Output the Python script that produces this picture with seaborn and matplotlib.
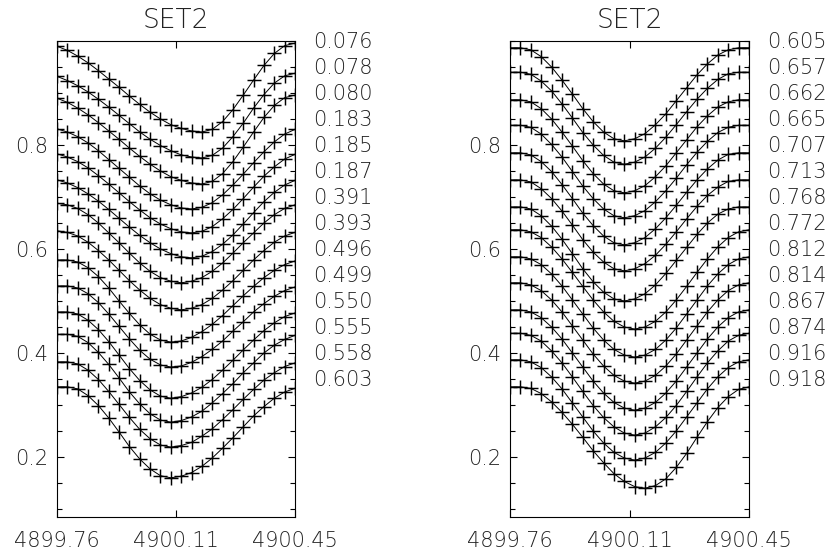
import matplotlib
matplotlib.use('Agg')
import pandas as pd
from matplotlib import pyplot as plt
from matplotlib.ticker import MultipleLocator, NullLocator
from matplotlib.transforms import blended_transform_factory
import seaborn as sns

# Sampled wavelengths (Angstrom) shared by every spectrum
wavelength = [4899.76, 4899.79, 4899.82, 4899.85, 4899.88, 4899.91, 4899.94, 4899.97,
              4900.00, 4900.03, 4900.06, 4900.09, 4900.12, 4900.15, 4900.18, 4900.21,
              4900.24, 4900.27, 4900.30, 4900.33, 4900.36, 4900.39, 4900.42, 4900.45]

left_phases = ['0.076', '0.078', '0.080', '0.183', '0.185', '0.187', '0.391',
               '0.393', '0.496', '0.499', '0.550', '0.555', '0.558', '0.603']
right_phases = ['0.605', '0.657', '0.662', '0.665', '0.707', '0.713', '0.768',
                '0.772', '0.812', '0.814', '0.867', '0.874', '0.916', '0.918']

# Offset line profiles, one row per phase
left_flux = [
    [.990, .982, .971, .958, .943, .927, .911, .894, .878, .863, .850, .839, .832, .827, .825, .830, .845, .868, .896, .925, .953, .976, .991, .996],
    [.932, .924, .914, .902, .888, .873, .857, .841, .825, .811, .799, .789, .781, .777, .775, .780, .794, .816, .842, .871, .897, .919, .933, .938],
    [.890, .882, .871, .858, .843, .827, .811, .794, .778, .763, .750, .739, .732, .727, .725, .730, .745, .768, .796, .825, .853, .876, .891, .896],
    [.831, .825, .816, .804, .789, .772, .755, .738, .721, .706, .694, .685, .679, .677, .680, .689, .704, .723, .744, .766, .787, .806, .821, .830],
    [.783, .777, .768, .756, .741, .725, .708, .691, .675, .660, .648, .639, .633, .631, .634, .643, .658, .676, .697, .719, .740, .758, .773, .782],
    [.733, .727, .718, .706, .692, .676, .659, .642, .626, .612, .600, .591, .585, .583, .586, .595, .609, .627, .648, .670, .691, .709, .723, .732],
    [.688, .685, .678, .666, .650, .631, .612, .592, .573, .557, .545, .538, .535, .538, .545, .557, .573, .592, .612, .631, .650, .666, .678, .685],
    [.635, .632, .625, .613, .597, .579, .559, .539, .521, .505, .493, .486, .483, .486, .493, .505, .521, .539, .559, .579, .597, .613, .625, .632],
    [.579, .579, .575, .564, .547, .525, .500, .476, .454, .436, .425, .421, .423, .430, .441, .455, .472, .491, .510, .528, .545, .559, .570, .577],
    [.529, .529, .525, .514, .497, .475, .451, .427, .405, .388, .377, .373, .375, .382, .393, .407, .423, .442, .460, .479, .495, .509, .520, .527],
    [.479, .479, .475, .463, .445, .422, .396, .370, .347, .329, .317, .313, .316, .323, .334, .349, .367, .386, .406, .425, .443, .458, .470, .477],
    [.436, .436, .432, .420, .401, .378, .352, .325, .302, .283, .271, .267, .270, .277, .288, .304, .322, .341, .362, .381, .400, .415, .426, .434],
    [.383, .383, .379, .367, .349, .326, .301, .276, .253, .235, .223, .219, .222, .228, .240, .254, .272, .291, .311, .330, .348, .362, .374, .381],
    [.335, .335, .331, .318, .299, .275, .248, .220, .196, .177, .164, .160, .163, .170, .182, .198, .217, .237, .258, .279, .297, .313, .325, .332],
]

right_flux = [
    [.987, .987, .983, .970, .950, .925, .898, .870, .845, .825, .812, .808, .812, .822, .839, .860, .885, .910, .935, .956, .973, .983, .987, .987],
    [.940, .940, .936, .923, .904, .879, .852, .824, .800, .780, .767, .763, .767, .777, .794, .815, .839, .864, .888, .909, .926, .937, .940, .940],
    [.887, .887, .883, .870, .850, .825, .798, .770, .745, .725, .712, .708, .712, .722, .739, .760, .785, .810, .835, .856, .873, .883, .887, .887],
    [.838, .838, .834, .821, .801, .777, .749, .721, .697, .677, .664, .660, .664, .674, .691, .712, .736, .762, .786, .807, .824, .834, .838, .838],
    [.785, .785, .781, .768, .749, .724, .697, .669, .645, .625, .612, .608, .612, .622, .639, .660, .684, .709, .733, .754, .771, .782, .785, .785],
    [.733, .733, .729, .716, .697, .673, .646, .618, .594, .575, .562, .558, .562, .572, .588, .609, .633, .658, .682, .703, .719, .730, .733, .733],
    [.681, .681, .677, .664, .644, .619, .591, .562, .537, .517, .504, .500, .504, .514, .531, .553, .578, .603, .628, .650, .667, .677, .681, .681],
    [.637, .637, .633, .622, .604, .581, .555, .528, .502, .479, .461, .450, .446, .450, .461, .479, .502, .528, .555, .581, .604, .622, .633, .637],
    [.585, .585, .581, .570, .552, .529, .502, .475, .448, .425, .407, .396, .392, .396, .407, .425, .448, .475, .502, .529, .552, .570, .581, .585],
    [.535, .535, .531, .520, .502, .479, .452, .425, .398, .375, .357, .346, .342, .346, .357, .375, .398, .425, .452, .479, .502, .520, .531, .535],
    [.483, .483, .479, .468, .450, .427, .400, .373, .346, .323, .305, .294, .290, .294, .305, .323, .346, .373, .400, .427, .450, .468, .479, .483],
    [.438, .438, .434, .423, .404, .381, .354, .326, .299, .276, .258, .246, .242, .246, .258, .276, .299, .326, .354, .381, .404, .423, .434, .438],
    [.387, .387, .383, .372, .354, .331, .304, .277, .250, .227, .209, .198, .194, .198, .209, .227, .250, .277, .304, .331, .354, .372, .383, .387],
    [.335, .335, .332, .322, .306, .286, .263, .238, .212, .189, .168, .153, .143, .140, .145, .158, .180, .207, .238, .268, .295, .316, .330, .335],
]

x_ticks = [4899.76, 4900.105, 4900.45]
x_tick_labels = ['4899.76', '4900.11', '4900.45']
y_ticks = [0.2, 0.4, 0.6, 0.8]
y_tick_labels = ['0.2', '0.4', '0.6', '0.8']


def to_frame(rows):
    records = []
    for i, row in enumerate(rows):
        for w, f in zip(wavelength, row):
            records.append((i, w, f))
    return pd.DataFrame(records, columns=['spectrum', 'wavelength', 'flux'])


sns.set_style('ticks')
plt.rcParams['font.family'] = ['DejaVu Sans']
plt.rcParams['font.weight'] = 'light'
plt.rcParams['axes.titleweight'] = 'light'

fig = plt.figure(figsize=(8.32, 5.57), dpi=100)
ax_left = fig.add_axes([57 / 832, 40 / 557, 238 / 832, 476 / 557])
ax_right = fig.add_axes([510 / 832, 40 / 557, 239 / 832, 476 / 557])

for ax, rows, phases in [(ax_left, left_flux, left_phases), (ax_right, right_flux, right_phases)]:
    df = to_frame(rows)
    sns.lineplot(data=df, x='wavelength', y='flux', units='spectrum', estimator=None,
                 color='black', linewidth=0.7, legend=False, ax=ax)
    sns.scatterplot(data=df, x='wavelength', y='flux', marker='+', s=105,
                    color='black', linewidth=1.05, legend=False, ax=ax)

    ax.set_xlim(4899.76, 4900.45)
    ax.set_ylim(0.0846, 1.0)
    ax.set_xticks(x_ticks, labels=x_tick_labels)
    ax.set_yticks(y_ticks, labels=y_tick_labels)
    ax.xaxis.set_minor_locator(NullLocator())
    ax.yaxis.set_minor_locator(MultipleLocator(0.05))
    ax.tick_params(which='both', direction='in', top=True, right=True,
                   labelsize=15, width=0.8, color='black', labelcolor='#222222')
    ax.tick_params(which='major', length=5)
    ax.tick_params(which='minor', length=3.5)
    ax.tick_params(axis='y', pad=6.5)
    ax.tick_params(axis='x', pad=10)
    for spine in ax.spines.values():
        spine.set_linewidth(0.8)
        spine.set_color('black')
    ax.set_xlabel('')
    ax.set_ylabel('')
    ax.set_title('SET2', fontsize=19, pad=9, fontweight='light', color='#222222')

    trans = blended_transform_factory(ax.transAxes, ax.transData)
    for i, phase in enumerate(phases):
        ax.text(1.076, 0.998 - 0.05 * i, phase, transform=trans,
                ha='left', va='center', fontsize=15, color='#222222')

fig.savefig('out.png', dpi=100)
